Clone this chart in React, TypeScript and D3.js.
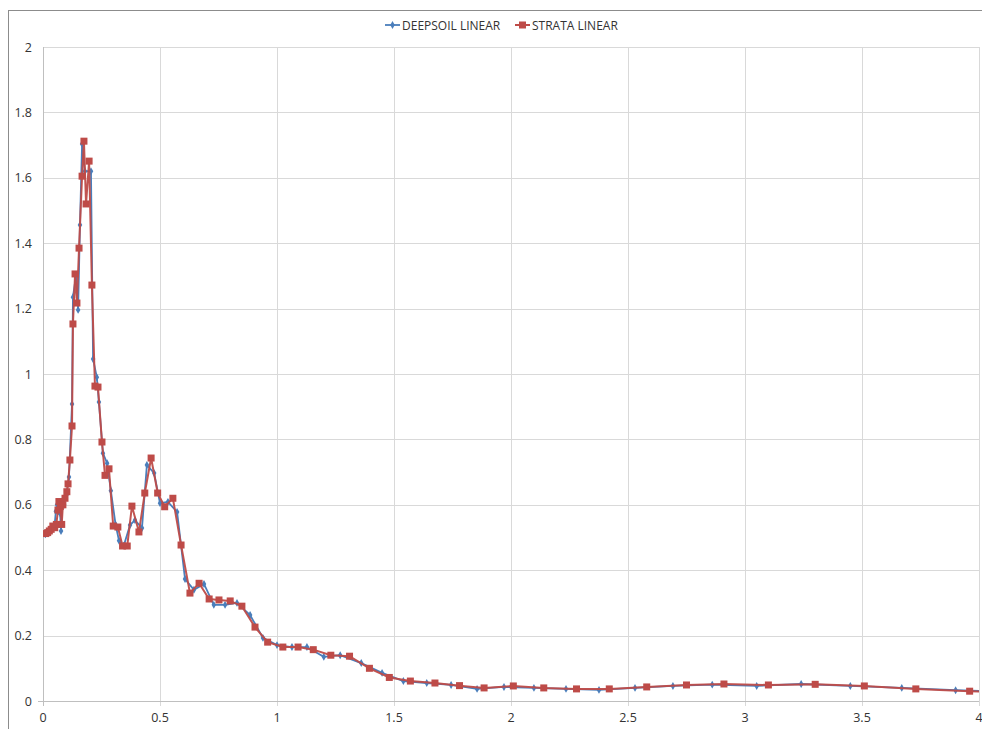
import React, { useEffect, useRef } from 'react';
import * as d3 from 'd3';

// periods (s) and spectral acceleration (g)
const deepsoilX = [
  0.01, 0.02, 0.03, 0.04, 0.05, 0.055, 0.06, 0.066, 0.073, 0.077, 0.082, 0.09, 0.1, 0.111, 0.124,
  0.128, 0.141, 0.15, 0.158, 0.167, 0.179, 0.205, 0.214, 0.23, 0.239, 0.256, 0.274, 0.29, 0.31,
  0.325, 0.345, 0.372, 0.393, 0.423, 0.444, 0.475, 0.5, 0.534, 0.573, 0.607, 0.645, 0.688, 0.73,
  0.778, 0.829, 0.885, 0.94, 1.0, 1.064, 1.128, 1.2, 1.27, 1.36, 1.449, 1.54, 1.64, 1.744, 1.855,
  1.97, 2.098, 2.235, 2.376, 2.53, 2.692, 2.86, 3.05, 3.24, 3.45, 3.67, 3.9, 4.15,
];
const deepsoilY = [
  0.51, 0.515, 0.52, 0.53, 0.54, 0.58, 0.6, 0.58, 0.574, 0.52, 0.61, 0.6, 0.63, 0.685, 0.908,
  1.235, 1.3, 1.196, 1.456, 1.703, 1.62, 1.62, 1.046, 0.99, 0.914, 0.758, 0.727, 0.643, 0.54,
  0.49, 0.475, 0.538, 0.553, 0.529, 0.722, 0.697, 0.605, 0.609, 0.578, 0.373, 0.34, 0.358, 0.294,
  0.294, 0.3, 0.263, 0.193, 0.171, 0.165, 0.165, 0.135, 0.14, 0.116, 0.086, 0.061, 0.055, 0.049, 0.037,
  0.043, 0.04, 0.037, 0.034, 0.04, 0.046, 0.05, 0.046, 0.052, 0.046, 0.04, 0.033, 0.027,
];
const strataX = [
  0.012, 0.02, 0.027, 0.035, 0.042, 0.05, 0.057, 0.064, 0.068, 0.074, 0.08, 0.085, 0.094, 0.102,
  0.107, 0.115, 0.124, 0.128, 0.137, 0.145, 0.154, 0.167, 0.175, 0.184, 0.197, 0.209, 0.222, 0.235,
  0.252, 0.265, 0.282, 0.3, 0.32, 0.34, 0.36, 0.38, 0.41, 0.435, 0.462, 0.49, 0.52, 0.555, 0.59,
  0.628, 0.667, 0.71, 0.752, 0.8, 0.85, 0.906, 0.96, 1.025, 1.09, 1.155, 1.23, 1.31, 1.395, 1.48,
  1.57, 1.675, 1.78, 1.885, 2.01, 2.14, 2.28, 2.42, 2.58, 2.75, 2.91, 3.1, 3.3, 3.51, 3.73, 3.96, 4.15,
];
const strataY = [
  0.512, 0.515, 0.52, 0.525, 0.535, 0.53, 0.54, 0.584, 0.61, 0.595, 0.54, 0.6, 0.62, 0.64,
  0.664, 0.737, 0.841, 1.153, 1.306, 1.217, 1.385, 1.605, 1.712, 1.52, 1.651, 1.272, 0.963, 0.96,
  0.792, 0.69, 0.71, 0.535, 0.532, 0.474, 0.474, 0.596, 0.517, 0.636, 0.743, 0.636, 0.594, 0.62, 0.477,
  0.33, 0.36, 0.312, 0.309, 0.306, 0.29, 0.226, 0.18, 0.165, 0.165, 0.157, 0.14, 0.137, 0.1, 0.072,
  0.061, 0.055, 0.047, 0.04, 0.046, 0.04, 0.037, 0.037, 0.043, 0.049, 0.052, 0.049, 0.051, 0.046, 0.037, 0.03, 0.025,
];
const xTicks = [0, 0.5, 1, 1.5, 2, 2.5, 3, 3.5, 4];
const yTicks = [0, 0.2, 0.4, 0.6, 0.8, 1, 1.2, 1.4, 1.6, 1.8, 2];

const BLUE = '#4a7ebb';
const RED = '#be4b48';
const FONT = '"Open Sans", "Liberation Sans", sans-serif';

export default function App() {
  const svgRef = useRef<SVGSVGElement>(null);

  useEffect(() => {
    const svg = d3.select(svgRef.current);
    svg.selectAll('*').remove();

    const left = 43, right = 979, top = 47, bottom = 701;
    const x = d3.scaleLinear().domain([0, 4]).range([left, right]);
    const y = d3.scaleLinear().domain([0, 2]).range([bottom, top]);

    // chart frame
    svg.append('rect')
      .attr('x', 8.5).attr('y', 10.5)
      .attr('width', 1000).attr('height', 1000)
      .attr('fill', '#fff').attr('stroke', '#8c8c8c').attr('stroke-width', 1);

    svg.append('defs').append('clipPath').attr('id', 'plot-clip')
      .append('rect')
      .attr('x', left).attr('y', top - 5)
      .attr('width', right - left).attr('height', bottom - top + 10);

    // grid
    const grid = svg.append('g');
    grid.selectAll('.hg').data(yTicks).join('line')
      .attr('x1', left).attr('x2', right)
      .attr('y1', d => Math.round(y(d)) + 0.5).attr('y2', d => Math.round(y(d)) + 0.5)
      .attr('stroke', '#d9d9d9').attr('stroke-width', 1);
    grid.selectAll('.vg').data(xTicks.slice(1)).join('line')
      .attr('x1', d => Math.round(x(d)) + 0.5).attr('x2', d => Math.round(x(d)) + 0.5)
      .attr('y1', top).attr('y2', bottom + 5)
      .attr('stroke', '#d9d9d9').attr('stroke-width', 1);

    // axes
    svg.append('line')
      .attr('x1', left + 0.5).attr('x2', left + 0.5)
      .attr('y1', top).attr('y2', bottom + 5)
      .attr('stroke', '#bfbfbf');
    svg.append('line')
      .attr('x1', left - 5).attr('x2', right)
      .attr('y1', bottom + 0.5).attr('y2', bottom + 0.5)
      .attr('stroke', '#bfbfbf');

    svg.selectAll('.yl').data(yTicks).join('text')
      .attr('x', 32).attr('y', d => y(d) + 4.5)
      .attr('text-anchor', 'end')
      .attr('font-family', FONT).attr('font-size', 12.5).attr('fill', '#333')
      .text(d => String(d));
    svg.selectAll('.xl').data(xTicks).join('text')
      .attr('x', d => x(d)).attr('y', 722)
      .attr('text-anchor', 'middle')
      .attr('font-family', FONT).attr('font-size', 12.5).attr('fill', '#333')
      .text(d => String(d));

    const plot = svg.append('g').attr('clip-path', 'url(#plot-clip)');

    const deep = deepsoilX.map((v, i) => [x(v), y(deepsoilY[i])] as [number, number]);
    const strata = strataX.map((v, i) => [x(v), y(strataY[i])] as [number, number]);

    plot.append('path')
      .attr('d', d3.line()(deep))
      .attr('fill', 'none').attr('stroke', BLUE).attr('stroke-width', 1.8);
    plot.selectAll('.dm').data(deep).join('path')
      .attr('transform', d => `translate(${d[0]},${d[1]})`)
      .attr('d', d3.symbol(d3.symbolDiamond, 18)())
      .attr('fill', BLUE);

    plot.append('path')
      .attr('d', d3.line()(strata))
      .attr('fill', 'none').attr('stroke', RED).attr('stroke-width', 2)
      .attr('stroke-opacity', 0.95);
    plot.selectAll('.sq').data(strata).join('rect')
      .attr('x', d => d[0] - 3.5).attr('y', d => d[1] - 3.5)
      .attr('width', 7).attr('height', 7)
      .attr('fill', RED);

    // legend
    const lg = svg.append('g').attr('font-family', FONT).attr('font-size', 12).attr('fill', '#333');
    lg.append('line').attr('x1', 385).attr('x2', 400).attr('y1', 25).attr('y2', 25)
      .attr('stroke', BLUE).attr('stroke-width', 1.8);
    lg.append('path').attr('transform', 'translate(392.5,25)')
      .attr('d', d3.symbol(d3.symbolDiamond, 18)()).attr('fill', BLUE);
    lg.append('text').attr('x', 402).attr('y', 29.5).text('DEEPSOIL LINEAR');

    lg.append('line').attr('x1', 515).attr('x2', 530).attr('y1', 25).attr('y2', 25)
      .attr('stroke', RED).attr('stroke-width', 2);
    lg.append('rect').attr('x', 519).attr('y', 21.5).attr('width', 7).attr('height', 7).attr('fill', RED);
    lg.append('text').attr('x', 532).attr('y', 29.5).text('STRATA LINEAR');
  }, []);

  return (
    <svg
      ref={svgRef}
      width={982}
      height={729}
      style={{ position: 'absolute', left: 0, top: 0, background: '#fff' }}
    />
  );
}
